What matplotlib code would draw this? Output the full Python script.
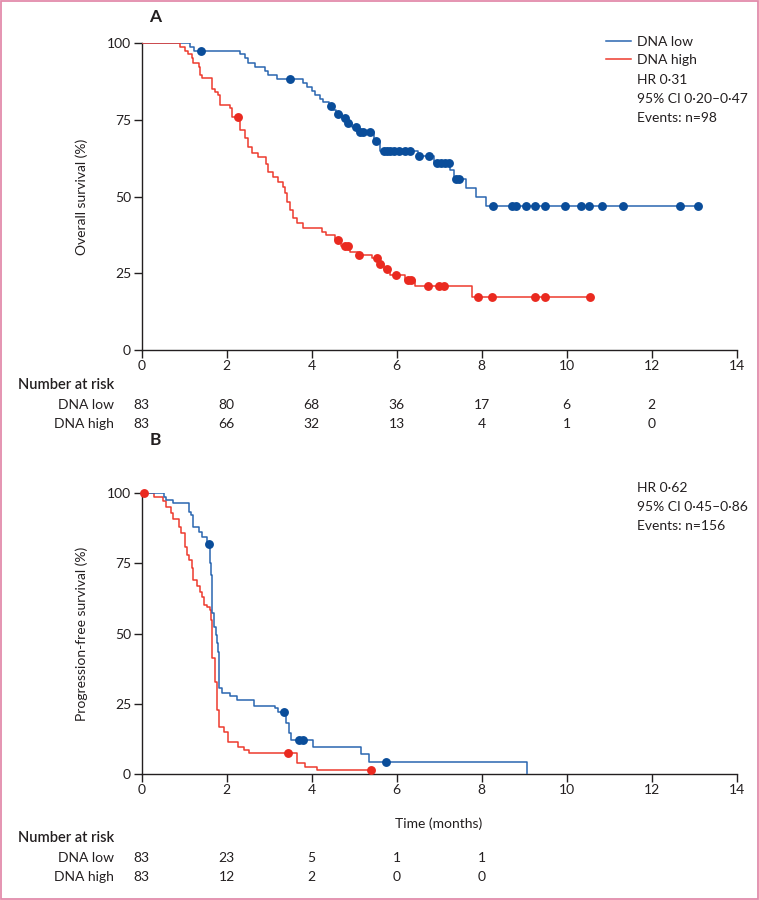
import numpy as np
import matplotlib as mpl
import matplotlib.pyplot as plt
from matplotlib.patches import Rectangle
from matplotlib.transforms import blended_transform_factory

mpl.use('Agg')
plt.rcParams['font.family'] = ['Lato', 'DejaVu Sans']
plt.rcParams['text.color'] = '#231f20'

# ---- data ----
# panel A, overall survival
os_low_t = [0, 1.13, 1.24, 2.32, 2.43, 2.51, 2.67, 2.90, 2.98, 3.18, 3.81, 3.89, 4.00, 4.08,
            4.20, 4.28, 4.40, 4.50, 4.58, 4.72, 4.84, 4.95, 5.10, 5.48, 5.60, 6.50, 6.89,
            7.27, 7.35, 7.64, 7.87, 8.10]
os_low_s = [100, 98.8, 97.6, 96.4, 95.1, 93.7, 92.4, 91.0, 89.6, 88.2, 86.9, 85.7, 84.5, 83.3,
            82.0, 80.8, 79.6, 78.2, 76.8, 75.8, 74.1, 72.8, 71.2, 68.3, 65.0, 63.1, 61.1,
            58.7, 55.7, 52.8, 49.9, 46.8]
os_low_end = 13.1
os_low_cens = [1.40, 3.49, 4.46, 4.62, 4.79, 4.87, 5.04, 5.14, 5.20, 5.38, 5.52, 5.70, 5.77,
               5.85, 5.95, 6.05, 6.21, 6.31, 6.54, 6.76, 6.95, 7.04, 7.13, 7.23, 7.40, 7.48,
               8.28, 8.71, 8.82, 9.04, 9.26, 9.50, 9.96, 10.33, 10.53, 10.84, 11.32, 12.68, 13.10]

os_high_t = [0, 0.91, 1.02, 1.10, 1.18, 1.22, 1.35, 1.38, 1.42, 1.67, 1.73, 1.81, 1.85, 2.08,
             2.12, 2.32, 2.43, 2.51, 2.59, 2.75, 2.94, 2.98, 3.10, 3.22, 3.34, 3.38, 3.42,
             3.49, 3.57, 3.65, 3.81, 4.24, 4.34, 4.55, 4.70, 4.90, 5.10, 5.42, 5.58, 5.70,
             5.85, 6.20, 6.44, 7.77]
os_high_s = [100, 98.8, 97.6, 96.4, 95.2, 93.7, 92.4, 89.8, 88.6, 85.0, 84.2, 83.2, 80.0, 78.8,
             75.9, 71.7, 69.0, 66.3, 64.1, 62.8, 60.5, 58.2, 56.5, 54.9, 53.3, 51.1, 48.4,
             45.7, 42.9, 41.3, 39.7, 38.6, 37.6, 35.9, 34.0, 32.1, 31.0, 30.0, 28.1, 26.4,
             24.6, 22.9, 20.9, 17.3]
os_high_end = 10.56
os_high_cens = [2.28, 4.62, 4.79, 4.87, 5.12, 5.53, 5.60, 5.77, 5.99, 6.28, 6.33, 6.75, 7.01,
                7.12, 7.92, 8.24, 9.26, 9.49, 10.56]

# panel B, progression-free survival
pfs_low_t = [0, 0.53, 0.58, 0.75, 1.12, 1.16, 1.20, 1.22, 1.36, 1.43, 1.53, 1.60, 1.63, 1.66,
             1.71, 1.75, 1.78, 1.81, 1.83, 1.89, 2.08, 2.25, 2.65, 3.14, 3.22, 3.40, 3.48,
             3.52, 4.04, 5.16, 5.36, 9.08]
pfs_low_s = [100, 98.8, 97.6, 96.7, 93.5, 92.3, 90.5, 88.1, 86.3, 84.3, 82.0, 75.0, 70.9, 57.5,
             52.5, 49.5, 46.6, 43.6, 30.5, 29.0, 27.8, 26.2, 24.2, 23.4, 22.2, 18.3, 14.5,
             12.0, 9.5, 7.1, 4.3, 0]
pfs_low_end = 9.08
pfs_low_cens = [1.59, 3.35, 3.71, 3.79, 5.75]

pfs_high_t = [0, 0.29, 0.50, 0.58, 0.69, 0.73, 0.89, 0.92, 1.02, 1.06, 1.12, 1.18, 1.22, 1.30,
              1.38, 1.42, 1.48, 1.53, 1.60, 1.63, 1.65, 1.67, 1.73, 1.78, 1.83, 1.94, 2.04,
              2.28, 2.40, 2.54, 3.67, 3.85, 4.12]
pfs_high_s = [100, 98.8, 97.4, 95.2, 92.9, 90.7, 88.1, 85.7, 81.0, 78.0, 76.2, 73.3, 69.1, 67.0,
              64.9, 63.2, 60.2, 59.6, 58.4, 54.9, 46.6, 41.2, 32.9, 22.8, 16.8, 15.0, 11.5,
              9.7, 8.5, 7.4, 4.0, 2.6, 1.4]
pfs_high_end = 5.40
pfs_high_cens = [0.06, 3.44, 5.40]

risk_times = [0, 2, 4, 6, 8, 10, 12]
os_risk_low = [83, 80, 68, 36, 17, 6, 2]
os_risk_high = [83, 66, 32, 13, 4, 1, 0]
pfs_risk_low = [83, 23, 5, 1, 1]
pfs_risk_high = [83, 12, 2, 0, 0]

BLUE_LINE = '#2a66b0'
BLUE_DOT = '#0a4d9a'
RED_LINE = '#ee3a2e'
RED_DOT = '#ea2a20'
INK = '#231f20'

W, H = 759, 900


def fx(px):
    return px / W


def fy(py):
    return 1 - py / H


def km(ax, t, s, end, cens, lc, dc, label=None):
    t = list(t) + [end]
    s = list(s) + [s[-1]]
    line, = ax.step(t, s, where='post', color=lc, lw=1.1, label=label, zorder=3)
    idx = np.searchsorted(np.array(t), np.array(cens), side='right') - 1
    ax.plot(cens, np.array(s)[idx], 'o', color=dc, ms=6.4, mec='none', zorder=4, clip_on=False)
    return line


def style(ax, ylabel):
    ax.set_xlim(0, 14)
    ax.set_ylim(0, 100)
    ax.set_xticks(range(0, 15, 2))
    ax.set_yticks([0, 25, 50, 75, 100])
    for sp in ['top', 'right']:
        ax.spines[sp].set_visible(False)
    for sp in ['left', 'bottom']:
        ax.spines[sp].set_color(INK)
        ax.spines[sp].set_linewidth(1.0)
    ax.tick_params(direction='out', length=5.5, width=1.0, color=INK, labelcolor=INK,
                   labelsize=10, pad=2)
    ax.set_ylabel(ylabel, fontsize=10, color=INK)
    ax.yaxis.set_label_coords((88 - 141.5) / 595, 0.5)


def risk_table(fig, ax, y0, low, high):
    fig.text(fx(18), fy(y0), 'Number at risk', fontsize=10.5, fontweight='semibold',
             va='center', ha='left')
    fig.text(fx(114), fy(y0 + 20), 'DNA low', fontsize=10, va='center', ha='right')
    fig.text(fx(114), fy(y0 + 39), 'DNA high', fontsize=10, va='center', ha='right')
    tr = blended_transform_factory(ax.transData, fig.transFigure)
    for x, a, b in zip(risk_times, low, high):
        ax.text(x, fy(y0 + 20), str(a), transform=tr, ha='center', va='center', fontsize=10)
        ax.text(x, fy(y0 + 39), str(b), transform=tr, ha='center', va='center', fontsize=10)


fig = plt.figure(figsize=(W / 100, H / 100), dpi=100)
axA = fig.add_axes([fx(141.5), fy(350), 595 / W, 306.7 / H])
axB = fig.add_axes([fx(141.5), fy(774), 595 / W, 280.7 / H])

# panel A
lA1 = km(axA, os_low_t, os_low_s, os_low_end, os_low_cens, BLUE_LINE, BLUE_DOT, 'DNA low')
lA2 = km(axA, os_high_t, os_high_s, os_high_end, os_high_cens, RED_LINE, RED_DOT, 'DNA high')
style(axA, 'Overall survival (%)')
axA.legend(handles=[lA1, lA2], loc='upper left', bbox_to_anchor=(fx(606), fy(36)),
           bbox_transform=fig.transFigure, frameon=False, fontsize=10, handlelength=1.8,
           handletextpad=0.4, borderpad=0, borderaxespad=0, labelspacing=0.42)
for i, txt in enumerate(['HR 0·31', '95% CI 0·20–0·47', 'Events: n=98']):
    fig.text(fx(637), fy(80 + 19 * i), txt, fontsize=10, va='center', ha='left')
fig.text(fx(155), fy(17), 'A', fontsize=12.5, fontweight='bold', va='center', ha='center')
risk_table(fig, axA, 385, os_risk_low, os_risk_high)

# panel B
km(axB, pfs_high_t, pfs_high_s, pfs_high_end, pfs_high_cens, RED_LINE, RED_DOT)
km(axB, pfs_low_t, pfs_low_s, pfs_low_end, pfs_low_cens, BLUE_LINE, BLUE_DOT)
style(axB, 'Progression-free survival (%)')
axB.set_xlabel('Time (months)', fontsize=10, color=INK)
axB.xaxis.set_label_coords(0.5, -(817 - 774) / 280.7)
for i, txt in enumerate(['HR 0·62', '95% CI 0·45–0·86', 'Events: n=156']):
    fig.text(fx(637), fy(488 + 19 * i), txt, fontsize=10, va='center', ha='left')
fig.text(fx(155), fy(440), 'B', fontsize=12.5, fontweight='bold', va='center', ha='center')
risk_table(fig, axB, 838, pfs_risk_low, pfs_risk_high)

# pink frame round the figure
fig.patches.append(Rectangle((0.0015, 0.001), 0.997, 0.998, transform=fig.transFigure,
                             fill=False, ec='#e38bab', lw=1.3))

fig.savefig('out.png', dpi=100)
